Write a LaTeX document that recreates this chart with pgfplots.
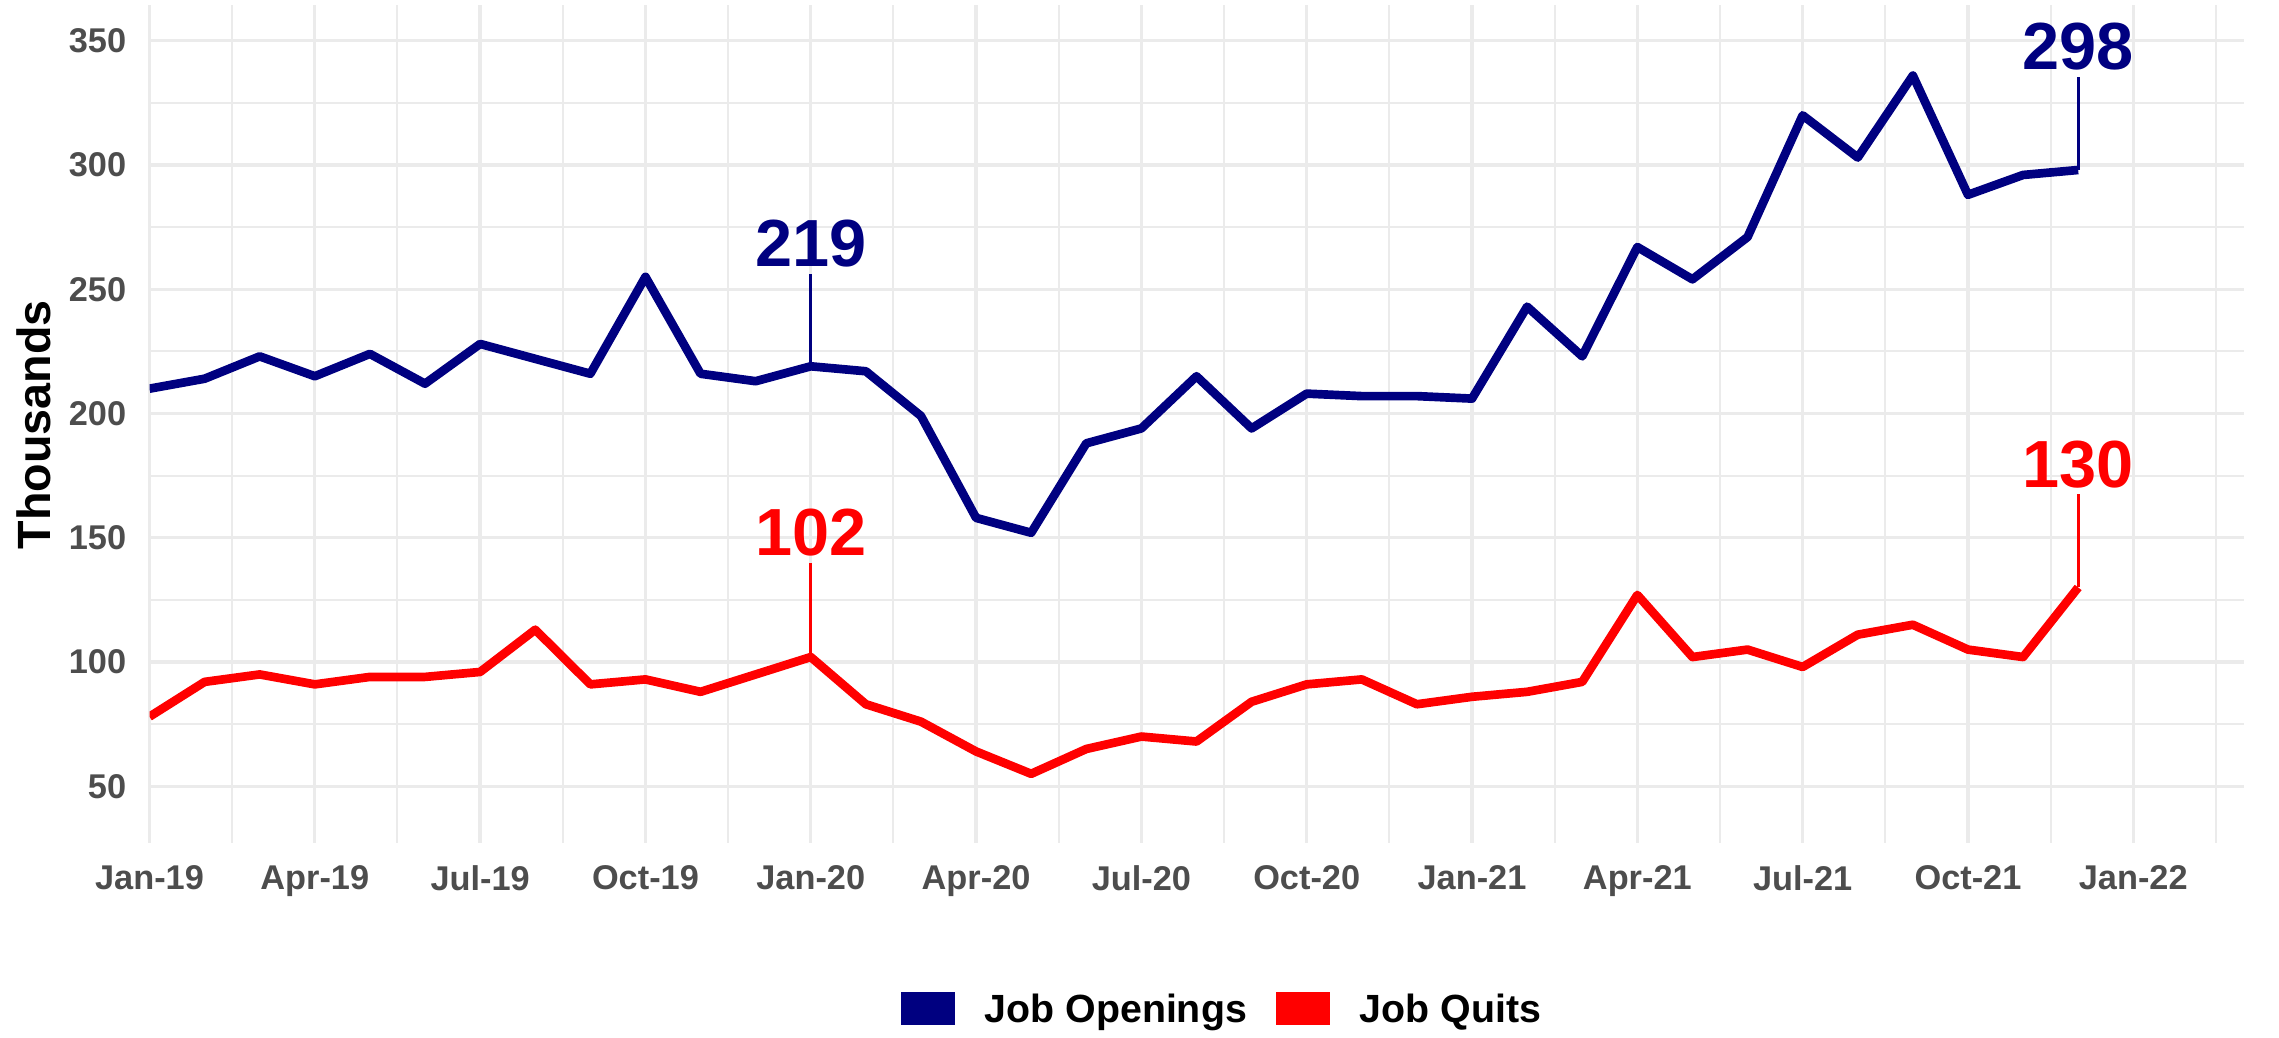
\documentclass[border=0pt]{standalone}
\usepackage{fontspec}
\setmainfont{Liberation Sans}
\usepackage{pgfplots}
\pgfplotsset{compat=1.18}
\usepackage{pgfplotstable}
\definecolor{navyc}{HTML}{000080}
\definecolor{redc}{HTML}{FF0000}
\definecolor{gridc}{HTML}{EBEBEB}
\definecolor{tickc}{HTML}{4D4D4D}

\pgfplotstableread{
m open quit
0 210 78
1 214 92
2 223 95
3 215 91
4 224 94
5 212 94
6 228 96
7 222 113
8 216 91
9 255 93
10 216 88
11 213 95
12 219 102
13 217 83
14 199 76
15 158 64
16 152 55
17 188 65
18 194 70
19 215 68
20 194 84
21 208 91
22 207 93
23 207 83
24 206 86
25 243 88
26 223 92
27 267 127
28 254 102
29 271 105
30 320 98
31 303 111
32 336 115
33 288 105
34 296 102
35 298 130
}\jobdata

\begin{document}
\begin{tikzpicture}
\useasboundingbox (0,0) rectangle (683.7pt,311.1pt);
\begin{axis}[
  at={(44.85pt,58.3pt)}, anchor=south west, scale only axis,
  width=628.2pt, height=251.3pt,
  xmin=0, xmax=38, ymin=27.3, ymax=364.4,
  xtick={0,3,...,36},
  xticklabels={Jan-19,Apr-19,Jul-19,Oct-19,Jan-20,Apr-20,Jul-20,Oct-20,Jan-21,Apr-21,Jul-21,Oct-21,Jan-22},
  minor xtick={1.5,4.5,...,37.5},
  ytick={50,100,...,350},
  minor ytick={75,125,...,325},
  grid=both,
  major grid style={draw=gridc, line width=1pt},
  minor grid style={draw=gridc, line width=0.6pt},
  axis line style={draw=none},
  major tick length=0pt, minor tick length=0pt,
  tick style={draw=none},
  ticklabel style={font=\fontsize{10.3}{12}\selectfont\bfseries, text=tickc},
  xticklabel style={anchor=north, inner sep=0pt, yshift=-6.7pt},
  yticklabel style={anchor=east, inner sep=0pt, xshift=-6.8pt},
  /pgf/number format/assume math mode=true,
]
\addplot[navyc, line width=2.6pt, line join=round] table[x=m,y=open]{\jobdata};
\addplot[redc, line width=2.6pt, line join=round] table[x=m,y=quit]{\jobdata};
\addplot[navyc, line width=1pt] coordinates {(12,219) (12,256.3)};
\addplot[navyc, line width=1pt] coordinates {(35,298) (35,335.5)};
\addplot[redc, line width=1pt] coordinates {(12,102) (12,139.8)};
\addplot[redc, line width=1pt] coordinates {(35,130) (35,167.5)};
\node[text=navyc, inner sep=0pt, font=\fontsize{20}{24}\selectfont\bfseries] at (axis cs:12,268.2) {219};
\node[text=navyc, inner sep=0pt, font=\fontsize{20}{24}\selectfont\bfseries] at (axis cs:35,347.5) {298};
\node[text=redc, inner sep=0pt, font=\fontsize{20}{24}\selectfont\bfseries] at (axis cs:12,151.9) {102};
\node[text=redc, inner sep=0pt, font=\fontsize{20}{24}\selectfont\bfseries] at (axis cs:35,179.6) {130};
\end{axis}
\node[rotate=90, inner sep=0pt, font=\fontsize{14}{17}\selectfont\bfseries] at (10.2pt,183.6pt) {Thousands};
\fill[navyc] (270.3pt,3.55pt) rectangle (286.5pt,13.45pt);
\node[anchor=base west, inner sep=0pt, font=\fontsize{11.8}{14}\selectfont\bfseries] at (295.2pt,4.3pt) {Job Openings};
\fill[redc] (382.8pt,3.55pt) rectangle (399pt,13.45pt);
\node[anchor=base west, inner sep=0pt, font=\fontsize{11.8}{14}\selectfont\bfseries] at (407.7pt,4.3pt) {Job Quits};
\end{tikzpicture}
\end{document}
